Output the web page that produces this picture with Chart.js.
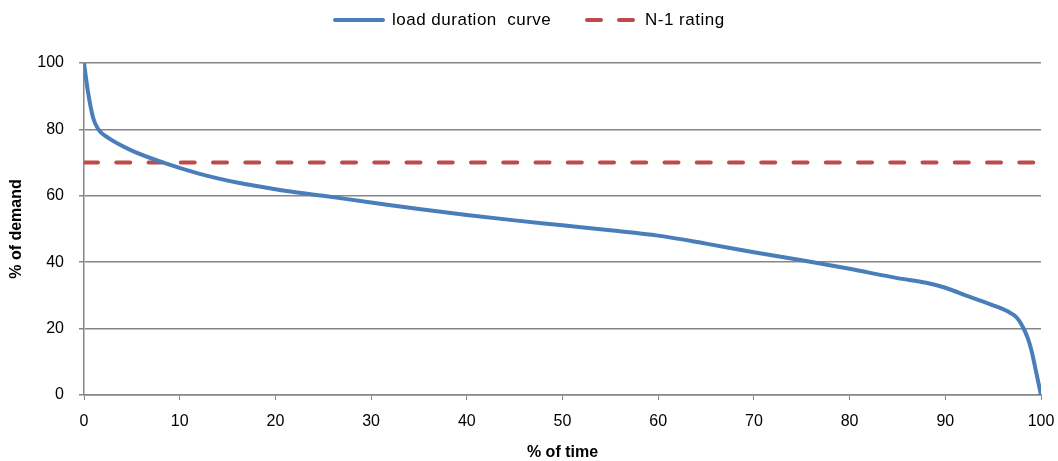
<!DOCTYPE html>
<html>
<head>
<meta charset="utf-8">
<script src="https://cdn.jsdelivr.net/npm/chart.js@4"></script>
<style>
  html, body { margin: 0; padding: 0; background: #fff; }
  #wrap { width: 1058px; height: 461px; }
</style>
</head>
<body>
<div id="wrap"><canvas id="chart" width="1058" height="461"></canvas></div>
<script>
// values
let timePct   = [0, 0.4, 0.95, 1.5, 2.5, 5, 8.3, 12, 16, 20, 25, 30, 35, 40, 45, 50, 55, 60, 65, 70, 75, 80, 85, 88, 90, 92.5, 95, 96.5, 97.5, 98.1, 98.6, 99, 99.5, 100]
let demandPct = [100, 91.6, 83.5, 80, 77.5, 73.6, 70, 66.7, 64, 62, 60, 58, 56, 54.2, 52.6, 51.1, 49.6, 48, 45.6, 43, 40.6, 38, 35.2, 33.8, 32.3, 29.6, 27, 25.2, 23.2, 20.5, 17.3, 13.5, 6.8, 0]
let ratingX   = [0, 100]
let ratingY   = [70, 70]
let yTicks    = [0, 20, 40, 60, 80, 100]

let fontFam = "'Liberation Sans', Arial, sans-serif"
let gridGray = '#868686'

let curve = timePct.map((x, i) => ({x: x, y: demandPct[i]}))
let rating = ratingX.map((x, i) => ({x: x, y: ratingY[i]}))

let data = {
    datasets: [{
        label: 'load duration curve',
        data: curve,
        borderColor: '#4A7EBB',
        backgroundColor: '#4A7EBB',
        borderWidth: 4,
        borderCapStyle: 'round',
        pointRadius: 0,
        fill: false,
        cubicInterpolationMode: 'monotone'
    }, {
        label: 'N-1 rating',
        data: rating,
        borderColor: '#BE4B48',
        backgroundColor: '#BE4B48',
        borderWidth: 4,
        borderCapStyle: 'round',
        borderDash: [14, 18.25],
        pointRadius: 0,
        fill: false
    }]
}

//legend drawn by hand so the dashed sample shows up
const legendPlugin = {
    id: 'lineLegend',
    afterDraw(chart) {
        let ctx = chart.ctx
        let y = 20
        let items = [
            {sx: 335, tx: 392, ds: chart.data.datasets[0]},
            {sx: 587, tx: 645, ds: chart.data.datasets[1]}
        ]
        ctx.save()
        ctx.font = `17px ${fontFam}`
        ctx.letterSpacing = '0.5px'
        ctx.textBaseline = 'middle'
        ctx.fillStyle = '#000'
        items.forEach(it => {
            ctx.strokeStyle = it.ds.borderColor
            ctx.lineWidth = 4
            ctx.setLineDash(it.ds.borderDash ? [14, 18] : [])
            ctx.lineCap = 'round'
            ctx.beginPath()
            ctx.moveTo(it.sx, y)
            ctx.lineTo(it.sx + 48, y)
            ctx.stroke()
            ctx.setLineDash([])
            ctx.fillText(it.ds.label.replace(' curve', '  curve'), it.tx, y)
        })
        ctx.restore()
    }
}

const config = {
    type: 'line',
    data: data,
    plugins: [legendPlugin],
    options: {
        responsive: false,
        animation: false,
        layout: { padding: { left: 9, right: 0, top: 63, bottom: 0 } },
        plugins: {
            tooltip: { enabled: false },
            legend: { display: false }
        },
        scales: {
            x: {
                type: 'linear',
                min: 0,
                max: 100,
                afterFit: axis => { axis.height = 66; axis.paddingRight = 17 },
                ticks: { stepSize: 10, color: '#000', font: { family: fontFam, size: 16 }, padding: 12 },
                grid: { drawOnChartArea: false, drawTicks: true, tickLength: 5, color: gridGray },
                border: { color: gridGray, width: 1.5 },
                title: { display: true, text: '% of time', color: '#000', font: { family: fontFam, size: 16, weight: 'bold', lineHeight: 1 }, padding: { top: 3, bottom: 0 } }
            },
            y: {
                min: 0,
                max: 100,
                afterFit: axis => { axis.width = 75 },
                afterBuildTicks: axis => { axis.ticks = yTicks.map(v => ({value: v})) },
                ticks: { color: '#000', font: { family: fontFam, size: 16 }, padding: 15 },
                grid: { color: gridGray, lineWidth: 1.5, tickLength: 5 },
                border: { color: gridGray, width: 1.5 },
                title: { display: true, text: '% of demand', color: '#000', font: { family: fontFam, size: 16, weight: 'bold', lineHeight: 1 }, padding: { top: 0, bottom: 0 } }
            }
        }
    }
}

new Chart(document.querySelector('#chart').getContext('2d'), config)
</script>
</body>
</html>
